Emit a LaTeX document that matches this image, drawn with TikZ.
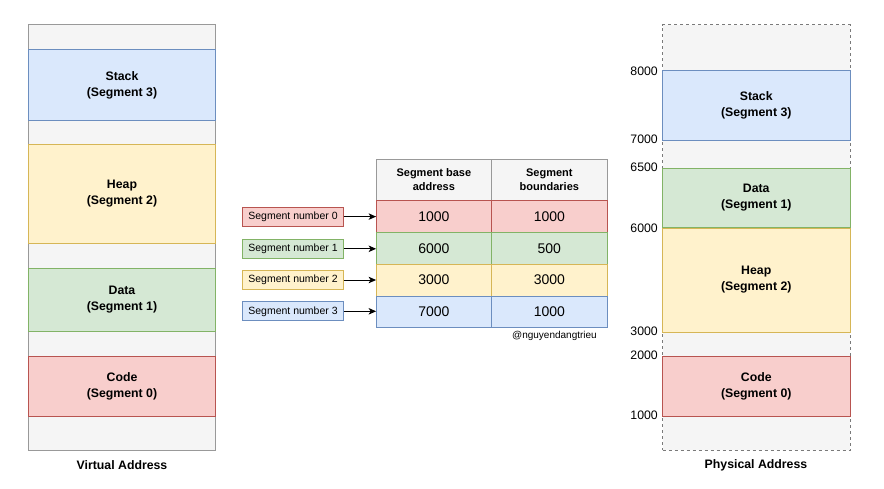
\documentclass[tikz,border=0pt]{standalone}
\usepackage{fontspec}
\setmainfont{Liberation Sans}
\usetikzlibrary{arrows.meta}
\definecolor{redF}{HTML}{F8CECC}\definecolor{redS}{HTML}{B85450}
\definecolor{grnF}{HTML}{D5E8D4}\definecolor{grnS}{HTML}{82B366}
\definecolor{yelF}{HTML}{FFF2CC}\definecolor{yelS}{HTML}{D6B656}
\definecolor{bluF}{HTML}{DAE8FC}\definecolor{bluS}{HTML}{6C8EBF}
\definecolor{gryF}{HTML}{F5F5F5}\definecolor{gryS}{HTML}{999999}
\tikzset{
  x=1pt,y=-1pt,
  cell/.style={inner sep=0pt,outer sep=0pt,line width=1pt,align=center},
  seg/.style={cell,minimum width=187pt,font=\bfseries\fontsize{12.3}{16}\selectfont},
  redc/.style={fill=redF,draw=redS},
  grnc/.style={fill=grnF,draw=grnS},
  yelc/.style={fill=yelF,draw=yelS},
  bluc/.style={fill=bluF,draw=bluS},
  gryc/.style={fill=gryF,draw=gryS},
  tcell/.style={cell,minimum width=115.5pt,font=\fontsize{14}{16}\selectfont},
  hcell/.style={cell,minimum width=115.5pt,font=\bfseries\fontsize{11}{14}\selectfont},
  snum/.style={cell,minimum width=101pt,minimum height=19pt,font=\fontsize{10.5}{12}\selectfont},
  addr/.style={anchor=east,inner sep=0pt,font=\fontsize{12.3}{14}\selectfont},
  ttl/.style={inner sep=0pt,font=\bfseries\fontsize{12.3}{14}\selectfont},
  arr/.style={-{Stealth[length=7.5pt,width=6.5pt,inset=2pt]},line width=1pt}
}
\begin{document}
\begin{tikzpicture}
\useasboundingbox (0,0) rectangle (884,488);
% Virtual address
\node[seg,gryc,minimum height=425.5pt] (vout) at (122,237.25) {};
\node[seg,bluc,minimum height=71pt] (vstack) at (122,85) {Stack\\(Segment 3)};
\node[seg,yelc,minimum height=98.5pt] (vheap) at (122,193.75) {Heap\\(Segment 2)};
\node[seg,grnc,minimum height=63pt] (vdata) at (122,299.5) {Data\\(Segment 1)};
\node[seg,redc,minimum height=60pt] (vcode) at (122,386) {Code\\(Segment 0)};
\node[ttl] (vtitle) at (122,465.5) {Virtual Address};
% Physical address
\node[seg,minimum width=187.5pt,fill=gryF,draw=gryS!80!black,dashed,minimum height=425.5pt] (pout) at (756.25,237.25) {};
\node[seg,minimum width=187.5pt,bluc,minimum height=70pt] (pstack) at (756.25,105.5) {Stack\\(Segment 3)};
\node[seg,minimum width=187.5pt,grnc,minimum height=59.5pt] (pdata) at (756.25,197.75) {Data\\(Segment 1)};
\node[seg,minimum width=187.5pt,yelc,minimum height=104pt] (pheap) at (756.25,280) {Heap\\(Segment 2)};
\node[seg,minimum width=187.5pt,redc,minimum height=60pt] (pcode) at (756.25,386) {Code\\(Segment 0)};
\node[ttl] (ptitle) at (756,465.7) {Physical Address};
\node[addr] (a8000) at (658,71) {8000};
\node[addr] (a7000) at (658,139.5) {7000};
\node[addr] (a6500) at (658,167) {6500};
\node[addr] (a6000) at (658,228) {6000};
\node[addr] (a3000) at (658,331) {3000};
\node[addr] (a2000) at (658,355.5) {2000};
\node[addr] (a1000) at (658,415.7) {1000};
% Table
\node[hcell,gryc,minimum height=41.7pt] (h1) at (433.85,179.85) {Segment base\\address};
\node[hcell,gryc,minimum height=41.7pt] (h2) at (549.35,179.85) {Segment\\boundaries};
\node[tcell,redc,minimum height=31.8pt] (b0) at (433.85,216.6) {1000};
\node[tcell,redc,minimum height=31.8pt] (l0) at (549.35,216.6) {1000};
\node[tcell,grnc,minimum height=31.5pt] (b1) at (433.85,248.25) {6000};
\node[tcell,grnc,minimum height=31.5pt] (l1) at (549.35,248.25) {500};
\node[tcell,yelc,minimum height=32pt] (b2) at (433.85,280) {3000};
\node[tcell,yelc,minimum height=32pt] (l2) at (549.35,280) {3000};
\node[tcell,bluc,minimum height=31pt] (b3) at (433.85,311.5) {7000};
\node[tcell,bluc,minimum height=31pt] (l3) at (549.35,311.5) {1000};
\node[anchor=east,inner sep=0pt,font=\fontsize{10}{12}\selectfont] (cred) at (597,336) {@nguyendangtrieu};
% Segment numbers
\node[snum,redc] (s0) at (293,216.6) {Segment number 0};
\node[snum,grnc] (s1) at (293,248.8) {Segment number 1};
\node[snum,yelc] (s2) at (293,280) {Segment number 2};
\node[snum,bluc] (s3) at (293,311.3) {Segment number 3};
\draw[arr] (s0.east) -- (s0.east -| b0.west);
\draw[arr] (s1.east) -- (s1.east -| b1.west);
\draw[arr] (s2.east) -- (s2.east -| b2.west);
\draw[arr] (s3.east) -- (s3.east -| b3.west);
\end{tikzpicture}
\end{document}
